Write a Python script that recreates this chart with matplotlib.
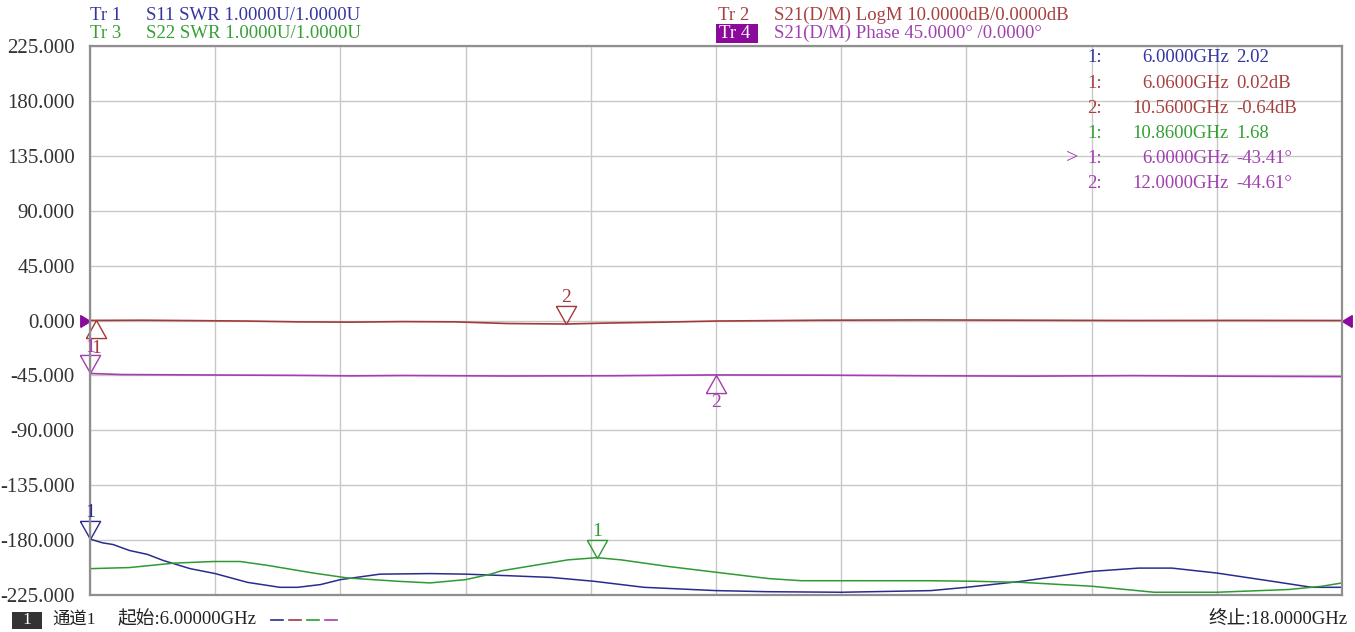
import matplotlib
matplotlib.use('Agg')
import matplotlib.pyplot as plt
from matplotlib.patches import Rectangle

# trace data
freq_tr1 = [6.00, 6.12, 6.22, 6.38, 6.55, 6.70, 6.96, 7.20, 7.51, 7.82, 7.99, 8.21, 8.40, 8.78, 9.26, 9.60,
            10.03, 10.42, 10.83, 11.31, 12.00, 12.50, 13.20, 14.06, 14.40, 14.93, 15.60, 16.05, 16.37,
            16.80, 17.33, 17.71, 18.00]
swr_tr1 = [2.02, 1.95, 1.92, 1.81, 1.74, 1.63, 1.48, 1.39, 1.23, 1.14, 1.14, 1.19, 1.28, 1.38, 1.39, 1.38,
           1.35, 1.32, 1.25, 1.14, 1.08, 1.06, 1.05, 1.08, 1.14, 1.25, 1.43, 1.49, 1.49,
           1.40, 1.25, 1.14, 1.14]

freq_tr3 = [6.00, 6.38, 6.80, 7.18, 7.44, 7.70, 8.14, 8.47, 8.95, 9.26, 9.60, 9.84, 9.94, 10.58, 10.86,
            11.09, 11.54, 12.02, 12.50, 12.82, 13.46, 14.06, 14.48, 14.93, 15.60, 16.20, 16.80, 17.49,
            17.81, 18.00]
swr_tr3 = [1.48, 1.50, 1.58, 1.61, 1.61, 1.54, 1.40, 1.31, 1.25, 1.22, 1.28, 1.38, 1.44, 1.64, 1.68,
           1.64, 1.52, 1.41, 1.30, 1.26, 1.26, 1.26, 1.25, 1.23, 1.16, 1.05, 1.05, 1.10,
           1.16, 1.22]

freq_tr2 = [6.0, 6.06, 6.5, 7.0, 7.5, 8.0, 8.5, 9.0, 9.5, 10.0, 10.56, 11.0, 11.5, 12.0, 13.0, 14.0,
            15.0, 16.0, 17.0, 18.0]
logm_tr2 = [0.02, 0.02, 0.05, -0.02, -0.10, -0.25, -0.30, -0.20, -0.25, -0.55, -0.64, -0.45, -0.30,
            -0.10, 0.05, 0.10, 0.05, 0.0, 0.02, 0.0]

freq_tr4 = [6.0, 6.3, 7.0, 8.0, 8.5, 9.0, 10.0, 11.0, 12.0, 13.0, 14.0, 15.0, 16.0, 17.0, 18.0]
phase_tr4 = [-43.41, -44.3, -44.6, -45.0, -45.4, -45.1, -45.5, -45.3, -44.61, -44.8, -45.3, -45.6,
             -45.2, -45.7, -46.0]

# marker positions (freq GHz, value in trace units)
mk_tr1 = (6.0, 2.02)
mk_tr3 = (10.86, 1.68)
mk_tr2 = [(6.06, 0.02), (10.56, -0.64)]
mk_tr4 = [(6.0, -43.41), (12.0, -44.61)]

y_ticks = [225, 180, 135, 90, 45, 0, -45, -90, -135, -180, -225]

c_tr1, c_tr2, c_tr3, c_tr4 = '#2b2b8f', '#a13a3a', '#2f9a34', '#a23fae'
txt1, txt2, txt3, txt4 = '#3535a0', '#a84040', '#35a035', '#a040b0'


# each trace has its own scale, map to the common 45/div grid
def swr_disp(v):
    return [-225 + (x - 1.0) * 45 for x in v]


def logm_disp(v):
    return [x * 4.5 for x in v]


plt.rcParams['font.family'] = ['Liberation Serif', 'Noto Sans CJK SC']

W, H = 1355, 632
fig = plt.figure(figsize=(W / 100, H / 100), dpi=100)
ax = fig.add_axes([90 / W, 1 - 595 / H, 1252 / W, 549 / H])

ax.set_xlim(6, 18)
ax.set_ylim(-225, 225)
ax.set_xticks([6 + 1.2 * i for i in range(11)])
ax.set_xticklabels([])
ax.set_yticks(y_ticks)
ax.set_yticklabels(['%.3f' % t for t in y_ticks], fontsize=15, color='#333333')
ax.tick_params(length=0, pad=11)
ax.grid(True, color='#c8c8c8', linewidth=1)
for s in ax.spines.values():
    s.set_color('#8f8f8f')
    s.set_linewidth(1.6)

ax.plot(freq_tr2, logm_disp(logm_tr2), color=c_tr2, lw=1.2)
ax.plot(freq_tr4, phase_tr4, color=c_tr4, lw=1.2)
ax.plot(freq_tr1, swr_disp(swr_tr1), color=c_tr1, lw=1.1)
ax.plot(freq_tr3, swr_disp(swr_tr3), color=c_tr3, lw=1.1)

down_tri = [(-0.56, 1), (0.56, 1), (0, 0), (-0.56, 1)]
up_tri = [(-0.56, -1), (0.56, -1), (0, 0), (-0.56, -1)]


def marker(x, y, label, col, down):
    ax.plot([x], [y], marker=down_tri if down else up_tri, markersize=26, mfc='none',
            mec=col, mew=1.0, clip_on=False)
    dy = 19 if down else -20
    ax.annotate(label, (x, y), xytext=(0, dy), textcoords='offset points', ha='center',
                va='center', color=col, fontsize=14)


marker(mk_tr1[0], swr_disp([mk_tr1[1]])[0], '1', c_tr1, True)
marker(mk_tr3[0], swr_disp([mk_tr3[1]])[0], '1', c_tr3, True)
marker(mk_tr2[0][0], logm_disp([mk_tr2[0][1]])[0], '1', c_tr2, False)
marker(mk_tr2[1][0], logm_disp([mk_tr2[1][1]])[0], '2', c_tr2, True)
marker(mk_tr4[0][0], mk_tr4[0][1], '1', c_tr4, True)
marker(mk_tr4[1][0], mk_tr4[1][1], '2', c_tr4, False)

# reference position arrows
ax.plot([6], [0], marker=[(-1, -0.6), (0, 0), (-1, 0.6), (-1, -0.6)], markersize=14,
        color='#8a0a9a', clip_on=False)
ax.plot([18], [0], marker=[(1, -0.6), (0, 0), (1, 0.6), (1, -0.6)], markersize=14,
        color='#8a0a9a', clip_on=False)


def fpos(x, y):
    return x / W, 1 - y / H


# header
fs = 13.5
fig.text(*fpos(90, 15), 'Tr 1', color=txt1, fontsize=fs, va='center')
fig.text(*fpos(146, 15), 'S11 SWR 1.0000U/1.0000U', color=txt1, fontsize=fs, va='center')
fig.text(*fpos(90, 33), 'Tr 3', color=txt3, fontsize=fs, va='center')
fig.text(*fpos(146, 33), 'S22 SWR 1.0000U/1.0000U', color=txt3, fontsize=fs, va='center')
fig.text(*fpos(718, 15), 'Tr 2', color=txt2, fontsize=fs, va='center')
fig.text(*fpos(774, 15), 'S21(D/M) LogM 10.0000dB/0.0000dB', color=txt2, fontsize=fs,
         va='center')
fig.add_artist(Rectangle((716 / W, 1 - 43 / H), 42 / W, 19 / H, facecolor='#8a0a9a',
                         edgecolor='none'))
fig.text(*fpos(719, 33), 'Tr 4', color='white', fontsize=fs, va='center')
fig.text(*fpos(774, 33), 'S21(D/M) Phase 45.0000\u00b0 /0.0000\u00b0', color=txt4, fontsize=fs,
         va='center')

# marker readout
rows = [('1:', '6.0000GHz', '2.02', txt1),
        ('1:', '6.0600GHz', '0.02dB', txt2),
        ('2:', '10.5600GHz', '-0.64dB', txt2),
        ('1:', '10.8600GHz', '1.68', txt3),
        ('1:', '6.0000GHz', '-43.41\u00b0', txt4),
        ('2:', '12.0000GHz', '-44.61\u00b0', txt4)]
for i, (n, f, v, col) in enumerate(rows):
    yy = 58 + 25.2 * i
    fig.text(*fpos(1087, yy), n, color=col, fontsize=fs, va='center')
    fig.text(*fpos(1229, yy), f, color=col, fontsize=fs, va='center', ha='right')
    fig.text(*fpos(1236, yy), v, color=col, fontsize=fs, va='center')
fig.text(*fpos(1066, 158), '>', color=txt4, fontsize=16, va='center')

# footer
fig.add_artist(Rectangle((12 / W, 1 - 629 / H), 30 / W, 17 / H, facecolor='#333333',
                         edgecolor='none'))
fig.text(*fpos(27, 620), '1', color='white', fontsize=12.5, va='center', ha='center')
fig.text(*fpos(52, 620), '通道1', color='#222222', fontsize=12.5, va='center')
fig.text(*fpos(118, 620), '起始:6.00000GHz', color='#222222', fontsize=13.5, va='center')
for k, col in enumerate([c_tr1, c_tr2, c_tr3, c_tr4]):
    x0 = 271 + k * 18
    fig.add_artist(plt.Line2D([x0 / W, (x0 + 12) / W], [1 - 620 / H] * 2, color=col, lw=1.2))
fig.text(*fpos(1348, 620), '终止:18.0000GHz', color='#222222', fontsize=13.5, va='center',
         ha='right')

fig.savefig('out.png', dpi=100, facecolor='white')
